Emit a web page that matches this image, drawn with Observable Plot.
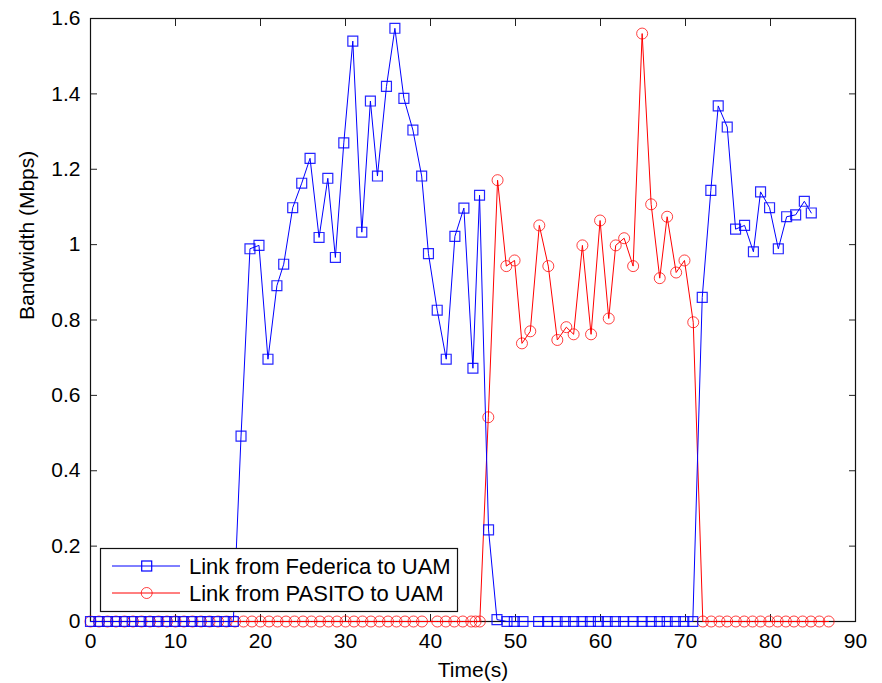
<!DOCTYPE html>
<html>
<head>
<meta charset="utf-8">
<script src="https://cdn.jsdelivr.net/npm/d3@7"></script>
<script src="https://cdn.jsdelivr.net/npm/@observablehq/plot@0.6"></script>
<style>
  html, body { margin: 0; padding: 0; background: white; }
  #chart { width: 882px; height: 683px; }
</style>
</head>
<body>
<div id="chart"></div>
<script>
// ---- Data ----
const fedTime = [0,1,2,3,4,4.9,5.9,6.9,7.9,8.9,9.9,10.9,11.9,12.9,13.8,14.8,15.8,16.8,
  17.71,18.76,19.82,20.88,21.93,22.73,23.79,24.85,25.83,26.89,27.92,28.81,29.8,30.86,31.92,32.93,33.76,34.82,35.81,36.87,37.93,38.96,39.76,40.79,41.85,42.87,43.93,44.99,45.77,46.83,47.82,
  49.0,49.86,50.88,52.72,53.78,54.89,55.86,56.84,57.83,58.81,59.75,60.78,61.75,62.73,63.84,64.9,65.96,66.94,67.84,68.81,69.8,70.86,
  71.97,72.98,73.85,74.91,75.89,76.95,77.99,78.83,79.89,80.92,81.9,82.96,83.98,84.8];
const fedBw = [0,0,0,0,0,0,0,0,0,0,0,0,0,0,0,0,0,0,
  0.492,0.989,0.998,0.696,0.891,0.948,1.098,1.163,1.229,1.019,1.176,0.966,1.270,1.540,1.033,1.381,1.182,1.420,1.574,1.388,1.304,1.182,0.976,0.826,0.696,1.022,1.097,0.672,1.131,0.243,0.005,
  0,0,0,0,0,0,0,0,0,0,0,0,0,0,0,0,0,0,0,0,0,0,
  0.860,1.144,1.368,1.312,1.041,1.051,0.981,1.140,1.098,0.989,1.074,1.079,1.115,1.084];

const pasTime = [0,1,2,3,4,5,6,7,8,9,10,11,12,13,14,15,16,17,18,19,20,21,22,23,24,25,26,27,28,29,30,31,32,33,34,35,36,37,38,39,
  40.8,41.8,42.8,43.8,44.8,45.3,45.8,
  46.8,47.89,48.92,49.89,50.76,51.74,52.8,53.86,54.92,55.98,56.84,57.87,58.89,59.95,60.97,61.79,62.78,63.84,64.9,65.96,66.97,67.84,68.9,69.88,70.91,
  72.04,73.03,74.0,74.9,75.92,76.91,77.89,78.83,79.86,80.84,81.81,82.76,83.78,84.76,85.75,86.84];
const pasBw = [0,0,0,0,0,0,0,0,0,0,0,0,0,0,0,0,0,0,0,0,0,0,0,0,0,0,0,0,0,0,0,0,0,0,0,0,0,0,0,0,
  0,0,0,0,0,0,0,
  0.542,1.171,0.943,0.958,0.738,0.770,1.051,0.943,0.747,0.781,0.762,0.998,0.762,1.064,0.804,0.998,1.017,0.943,1.560,1.107,0.911,1.074,0.926,0.958,0.794,
  0,0,0,0,0,0,0,0,0,0,0,0,0,0,0,0];

const seriesNames = ["Link from Federica to UAM", "Link from PASITO to UAM"];
const seriesColors = ["#0000ff", "#ff0000"];

const xTicks = [0,10,20,30,40,50,60,70,80,90];
const xTickLabels = ["0","10","20","30","40","50","60","70","80","90"];
const yTicks = [0,0.2,0.4,0.6,0.8,1,1.2,1.4,1.6];
const yTickLabels = ["0","0.2","0.4","0.6","0.8","1","1.2","1.4","1.6"];
const xLabel = "Time(s)";
const yLabel = "Bandwidth (Mbps)";

// ---- Build tables ----
const fed = fedTime.map((t, i) => ({t, bw: fedBw[i]}));
const pas = pasTime.map((t, i) => ({t, bw: pasBw[i]}));

const FONT = "'Liberation Sans', Arial, Helvetica, sans-serif";
const blank = () => "";

const chart = Plot.plot({
  width: 882,
  height: 683,
  marginLeft: 90,
  marginRight: 27,
  marginTop: 18,
  marginBottom: 62,
  x: {domain: [0, 90]},
  y: {domain: [0, 1.6]},
  style: {fontFamily: FONT, fontSize: "21px", background: "white", color: "black", overflow: "visible"},
  marks: [
    // tick labels
    Plot.axisX(xTicks, {anchor: "bottom", tickSize: 0, tickPadding: 12, tickFormat: d => xTickLabels[xTicks.indexOf(d)], label: null}),
    Plot.axisY(yTicks, {anchor: "left", tickSize: 0, tickPadding: 10, tickFormat: d => yTickLabels[yTicks.indexOf(d)], label: null}),
    // inward ticks on all four sides
    Plot.axisX(xTicks, {anchor: "bottom", tickSize: -7, tickFormat: blank, label: null, stroke: "#222"}),
    Plot.axisX(xTicks, {anchor: "top", tickSize: -7, tickFormat: blank, label: null, stroke: "#222"}),
    Plot.axisY(yTicks, {anchor: "left", tickSize: -7, tickFormat: blank, label: null, stroke: "#222"}),
    Plot.axisY(yTicks, {anchor: "right", tickSize: -7, tickFormat: blank, label: null, stroke: "#222"}),
    Plot.frame({stroke: "#111", strokeWidth: 1.2}),
    // PASITO series
    Plot.line(pas, {x: "t", y: "bw", stroke: seriesColors[1], strokeWidth: 1}),
    Plot.dot(pas, {x: "t", y: "bw", stroke: seriesColors[1], strokeWidth: 1, strokeOpacity: 0.75, r: 5.5, symbol: "circle", fill: "none"}),
    // Federica series
    Plot.line(fed, {x: "t", y: "bw", stroke: seriesColors[0], strokeWidth: 1}),
    Plot.dot(fed, {x: "t", y: "bw", stroke: seriesColors[0], strokeWidth: 1.2, strokeOpacity: 0.85, r: 5.6, symbol: "square", fill: "none"}),
    // axis titles
    Plot.text([xLabel], {frameAnchor: "bottom", dy: 49, lineAnchor: "middle", text: d => d, fontSize: 21, fill: "black"}),
    Plot.text([yLabel], {frameAnchor: "left", dx: -63, rotate: -90, lineAnchor: "middle", text: d => d, fontSize: 21, fill: "black"})
  ]
});

document.getElementById("chart").appendChild(chart);

// ---- Legend inside the plot (lower left) ----
const svg = d3.select(chart);
const lg = svg.append("g").attr("font-family", FONT).attr("font-size", 22).attr("text-anchor", "start");
lg.append("rect").attr("x", 100.5).attr("y", 548.5).attr("width", 357).attr("height", 63)
  .attr("fill", "white").attr("stroke", "#111").attr("stroke-width", 1.2);
const rowsY = [566, 593];
seriesNames.forEach((name, i) => {
  const y = rowsY[i];
  lg.append("line").attr("x1", 112).attr("x2", 180).attr("y1", y).attr("y2", y)
    .attr("stroke", seriesColors[i]).attr("stroke-width", 1);
  if (i === 0) {
    lg.append("rect").attr("x", 141.7).attr("y", y - 5).attr("width", 10).attr("height", 10)
      .attr("fill", "none").attr("stroke", seriesColors[i]).attr("stroke-width", 1.2);
  } else {
    lg.append("circle").attr("cx", 146.7).attr("cy", y).attr("r", 5.5)
      .attr("fill", "none").attr("stroke", seriesColors[i]).attr("stroke-opacity", 0.75).attr("stroke-width", 1);
  }
  lg.append("text").attr("x", 189).attr("y", y + 8).attr("text-anchor", "start").attr("fill", "black").text(name);
});
</script>
</body>
</html>
